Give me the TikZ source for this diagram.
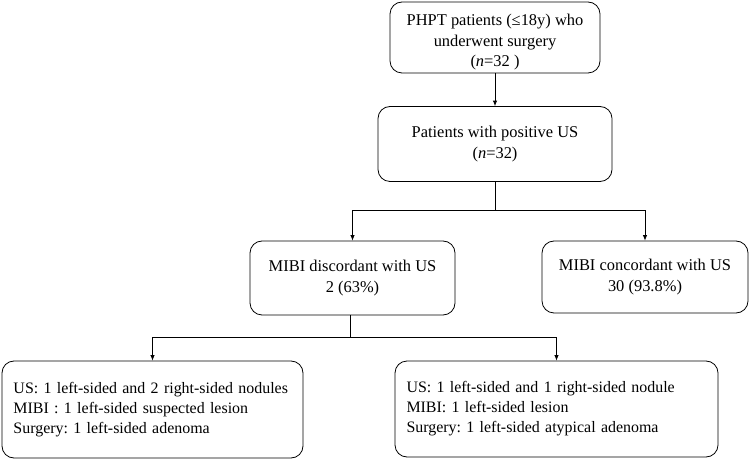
\documentclass[tikz,border=0pt]{standalone}
\usepackage{fontspec}
\setmainfont{Liberation Serif}
\usepackage{tikz}
\usetikzlibrary{arrows.meta}
\frenchspacing

\begin{document}
\begin{tikzpicture}[x=1bp,y=-1bp,>={Latex[length=5.5pt,width=4.5pt]},
	box/.style={draw,rounded corners=12bp,line width=0.8pt,align=center,
		font=\fontsize{16.5}{20.5}\selectfont,inner sep=0pt},
	listbox/.style={box,align=left,text width=#1,font=\fontsize{16}{20}\selectfont},
	link/.style={line width=0.8pt}]
	\useasboundingbox (0,0) rectangle (751,459);

	\node[box,minimum width=210bp,minimum height=71bp] (all) at (495,37.5)
		{\rule{0pt}{21bp}PHPT patients (≤18y) who\\underwent surgery\\(\textit{n}=32 )};
	\node[box,minimum width=234bp,minimum height=75bp] (pos) at (495,144)
		{Patients with positive US\\(\textit{n}=32)};
	\node[box,minimum width=205bp,minimum height=74bp] (disc) at (352.5,278)
		{MIBI discordant with US\\2 (63\%)};
	\node[box,minimum width=206bp,minimum height=72bp] (conc) at (645,277)
		{MIBI concordant with US\\30 (93.8\%)};
	\node[listbox=278bp,minimum width=301bp,minimum height=97bp] (caseA) at (152.5,409.5)
		{US: 1 left-sided and 2 right-sided nodules\\MIBI : 1 left-sided suspected lesion\\Surgery: 1 left-sided adenoma};
	\node[listbox=300bp,minimum width=323bp,minimum height=96bp] (caseB) at (556.5,409)
		{US: 1 left-sided and 1 right-sided nodule\\MIBI: 1 left-sided lesion\\Surgery: 1 left-sided atypical adenoma};

	\coordinate (split) at (495,210);
	\coordinate (split2) at (350,337);

	\draw[link,->] (all) -- (pos);
	\draw[link] (pos) -- (split);
	\draw[link,->] (split) -| (disc);
	\draw[link,->] (split) -| (conc);
	\draw[link] (disc.south -| split2) -- (split2);
	\draw[link,->] (split2) -| (caseA);
	\draw[link,->] (split2) -| (caseB);
\end{tikzpicture}
\end{document}
